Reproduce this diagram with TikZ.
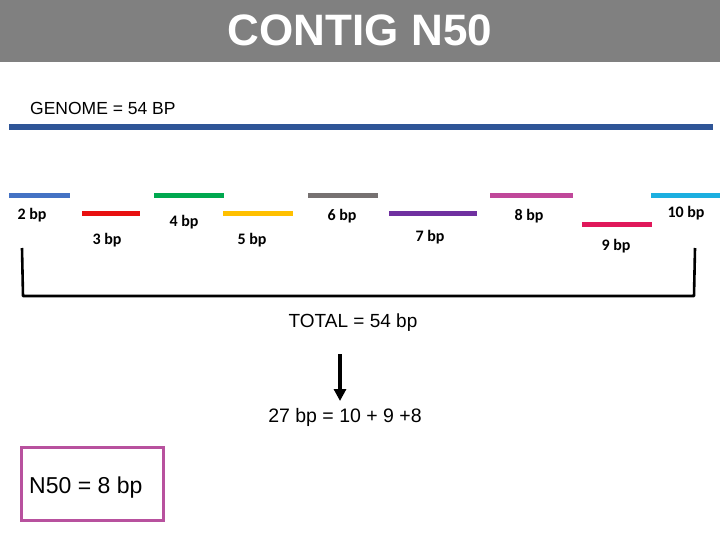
\documentclass[tikz,border=0pt]{standalone}
\usepackage{fontspec}
\setmainfont{Liberation Sans}
\newfontfamily\calib{Carlito}
\usetikzlibrary{arrows.meta}
\definecolor{hdr}{HTML}{808080}
\definecolor{genome}{HTML}{2F5597}
\definecolor{cblue}{HTML}{4472C4}
\definecolor{cred}{HTML}{E81010}
\definecolor{cgreen}{HTML}{00A84F}
\definecolor{cyellow}{HTML}{FFC000}
\definecolor{cgray}{HTML}{767171}
\definecolor{cpurple}{HTML}{7030A0}
\definecolor{cpink}{HTML}{C0489A}
\definecolor{ccrim}{HTML}{E0185A}
\definecolor{ccyan}{HTML}{1CAFE0}
\definecolor{boxc}{HTML}{B8519E}
\tikzset{
  bar/.style={fill=#1, draw=none, inner sep=0pt, minimum height=5pt, anchor=north west},
  bplabel/.style={font=\calib\bfseries\fontsize{16}{18}\selectfont, inner sep=0pt},
  txt/.style={inner sep=0pt, font=\fontsize{#1}{#1}\selectfont},
}
\begin{document}
\begin{tikzpicture}[x=1pt,y=-1pt]
\useasboundingbox (0,0) rectangle (720,540);
\fill[hdr] (0,0) rectangle (720,62);
\node[txt=44, text=white, font=\bfseries\fontsize{44}{44}\selectfont] (title) at (360,30) {CONTIG N50};
\node[txt=17.5, anchor=west] (genlab) at (30,108) {GENOME = 54 BP};
\node[fill=genome, inner sep=0pt, minimum width=704pt, minimum height=6pt, anchor=north west] (genome) at (9,124) {};
% contigs
\node[bar=cblue, minimum width=61pt] (c2) at (9,193) {};
\node[bar=cred, minimum width=58pt] (c3) at (82,211) {};
\node[bar=cgreen, minimum width=70pt] (c4) at (154,193) {};
\node[bar=cyellow, minimum width=70pt] (c5) at (223,211) {};
\node[bar=cgray, minimum width=70pt] (c6) at (308,193) {};
\node[bar=cpurple, minimum width=88pt] (c7) at (389,211) {};
\node[bar=cpink, minimum width=83pt] (c8) at (490,193) {};
\node[bar=ccrim, minimum width=70pt] (c9) at (582,222) {};
\node[bar=ccyan, minimum width=69pt] (c10) at (651,193) {};
% labels
\node[bplabel] (l2) at (32,215) {2 bp};
\node[bplabel] (l3) at (107,240) {3 bp};
\node[bplabel] (l4) at (184,222) {4 bp};
\node[bplabel] (l5) at (252,240) {5 bp};
\node[bplabel] (l6) at (342,216) {6 bp};
\node[bplabel] (l7) at (430,237) {7 bp};
\node[bplabel] (l8) at (529,216) {8 bp};
\node[bplabel] (l9) at (616,246) {9 bp};
\node[bplabel] (l10) at (686,213) {10 bp};
% bracket
\coordinate (bl) at (22,248);
\coordinate (br) at (695,248);
\draw[line width=2.6pt, line join=round] (bl) -- (23,296) -- (694,296) -- (br);
\node[txt=19] (total) at (353,323) {TOTAL = 54 bp};
\node[txt=19.5] (sum) at (345,417) {27 bp = 10 + 9 +8};
\coordinate (atop) at (340,354);
\draw[line width=3.6pt, -{Triangle[width=12pt,length=12pt]}] (atop) -- (340,401);
\node[draw=boxc, line width=3pt, inner sep=0pt, minimum width=142pt, minimum height=73pt, anchor=north west] (box) at (20,446) {};
\node[txt=23, anchor=west] (n50) at (29,488) {N50 = 8 bp};
\end{tikzpicture}
\end{document}
